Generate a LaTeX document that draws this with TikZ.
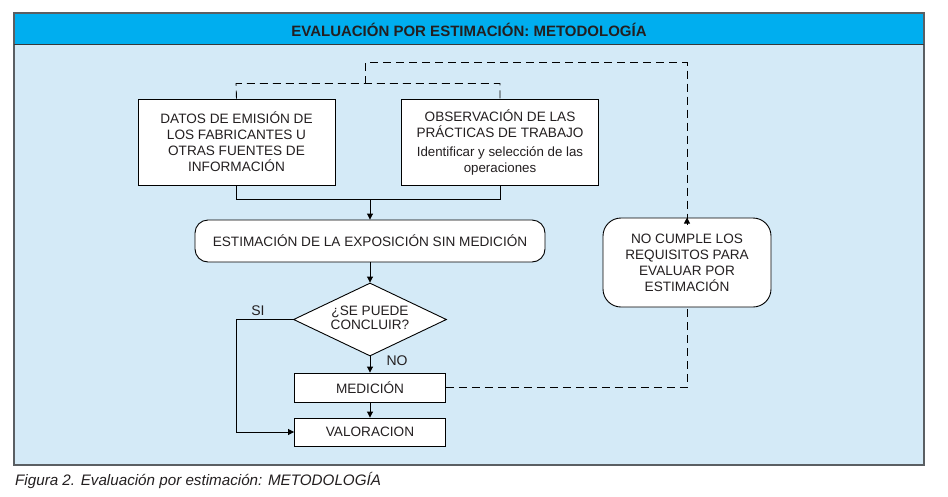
\documentclass[tikz,border=0pt]{standalone}
\usepackage{fontspec}
\usepackage{graphicx}
\setmainfont{Liberation Sans}
\usetikzlibrary{shapes.geometric,arrows.meta}
\definecolor{headblue}{HTML}{00AEEF}
\definecolor{bodyblue}{HTML}{D4EAF7}
\definecolor{framegray}{HTML}{5A5F63}
\definecolor{txt}{HTML}{231F20}
\begin{document}
\begin{tikzpicture}[x=1pt,y=-1pt,
  every node/.style={text=txt},
  box/.style={draw=black, line width=0.9pt, fill=white, inner sep=0pt, align=center,
    font=\fontsize{13.6}{16}\selectfont},
  rbox/.style={box, rounded corners=13pt},
  dia/.style={draw=black, line width=0.9pt, fill=white, shape=diamond, inner sep=0pt, aspect=2.1},
  diatext/.style={inner sep=0pt, align=center, font=\fontsize{13.6}{14.5}\selectfont},
  conn/.style={draw=black, line width=0.9pt},
  arr/.style={conn, -{Triangle[length=6pt,width=6pt]}},
  dconn/.style={draw=black, line width=0.9pt, dash pattern=on 8pt off 5pt},
  lab/.style={font=\fontsize{14}{15}\selectfont, inner sep=0pt}
]
\useasboundingbox (0,0) rectangle (948,496);
\fill[bodyblue] (14,44) rectangle (924,465);
\fill[headblue] (14,13) rectangle (924,44);
\draw[framegray, line width=1.3pt] (14,13) rectangle (924,465);
\draw[framegray!60!black, line width=1pt] (14,44) -- (924,44);
\node[inner sep=0pt, font=\bfseries\fontsize{15}{16}\selectfont] (title) at (469,29.5)
  {EVALUACIÓN POR ESTIMACIÓN: METODOLOGÍA};

\node[box, minimum width=197pt, minimum height=86pt] (datos) at (236.5,142)
  {DATOS DE EMISIÓN DE\\LOS FABRICANTES U\\OTRAS FUENTES DE\\INFORMACIÓN};
\node[box, minimum width=197pt, minimum height=86pt] (obs) at (500,142)
  {OBSERVACIÓN DE LAS\\PRÁCTICAS DE TRABAJO\\[3pt]
   \fontsize{13.3}{15}\selectfont Identificar y selección de las\\
   \fontsize{13.3}{15}\selectfont operaciones};
\node[rbox, minimum width=350pt, minimum height=42pt] (est) at (370,241)
  {ESTIMACIÓN DE LA EXPOSICIÓN SIN MEDICIÓN};
\node[dia, minimum width=153pt, minimum height=73pt] (q) at (370,319.5) {};
\node[diatext] (qt) at (370,318) {¿SE PUEDE\\CONCLUIR?};
\node[box, minimum width=151pt, minimum height=29pt] (med) at (370,387.5) {MEDICIÓN};
\node[box, minimum width=151pt, minimum height=28pt] (val) at (370,432) {VALORACION};
\node[box, rounded corners=18pt, minimum width=168pt, minimum height=89pt] (nc) at (687,262.5)
  {NO CUMPLE LOS\\REQUISITOS PARA\\EVALUAR POR\\ESTIMACIÓN};

\node[lab] (si) at (258,311) {SI};
\node[lab] (no) at (397,361) {NO};

\coordinate (j) at (370,199.5);
\coordinate (s) at (236,319.5);
\coordinate (d1) at (236,83.5);
\coordinate (d2) at (365,83.5);
\coordinate (d3) at (365,62.5);

\draw[conn] (datos.south) |- (j) -| (obs.south);
\draw[arr] (j) -- (est.north);
\draw[arr] (est.south) -- (q.north);
\draw[arr] (q.south) -- (med.north);
\draw[arr] (med.south) -- (val.north);
\draw[arr] (q.west) -- (s) |- (val.west);

\draw[dconn] (datos.north) -- (d1) -| (obs.north);
\draw[dconn] (d2) -- (d3) -| ([yshift=-7pt]nc.north);
\draw[arr] ([yshift=-7pt]nc.north) -- (nc.north);
\draw[dconn] (med.east) -| (nc.south);

\node[anchor=west, inner sep=0pt, font=\itshape\fontsize{15.2}{16}\selectfont] (cap) at (15,480.5)
  {Figura 2. Evaluación por estimación: METODOLOGÍA};
\end{tikzpicture}
\end{document}
